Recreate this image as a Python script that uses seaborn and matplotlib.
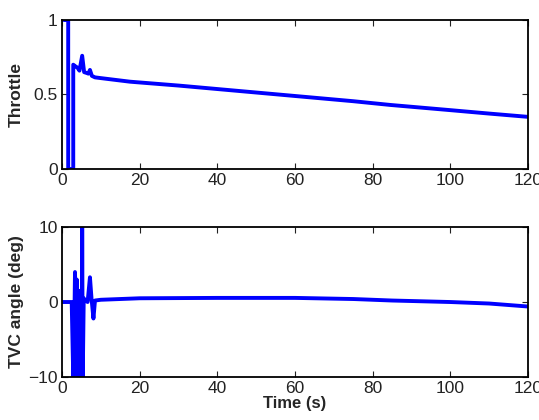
import numpy as np
import pandas as pd
import seaborn as sns
import matplotlib.pyplot as plt

# === DATA ===
throttle_t = [0.5, 1.6, 1.6, 2.9, 2.9, 3.4, 4.0, 4.5, 5.2, 5.7, 6.3, 6.8, 7.2, 7.7, 8.5,
              10, 17.5, 30, 45, 60, 75, 84.5, 100, 110, 120]
throttle_v = [1.0, 1.0, 0.0, 0.0, 0.70, 0.69, 0.68, 0.66, 0.76, 0.65, 0.645, 0.64, 0.665, 0.625, 0.615,
              0.61, 0.586, 0.56, 0.525, 0.49, 0.455, 0.43, 0.395, 0.372, 0.35]

tvc_t = [0.0, 2.5, 2.9, 3.0, 3.35, 3.6, 3.8, 4.0, 4.2, 4.4, 4.6, 4.9, 5.1, 5.2, 5.35, 5.6,
         6.0, 6.6, 7.2, 7.6, 8.1, 8.5, 10, 20, 40, 60, 75, 85, 100, 110, 120]
tvc_v = [0.0, 0.0, -10.0, -10.0, 4.0, -1.5, 3.0, -10.0, -1.8, 1.5, -2.0, 0.8, -10.0, 10.0, -10.0, 0.5,
         0.2, 0.0, 3.3, 0.5, -2.2, 0.2, 0.3, 0.5, 0.55, 0.55, 0.4, 0.2, 0.0, -0.2, -0.6]

time_ticks = [0, 20, 40, 60, 80, 100, 120]

sns.set_style("ticks")
plt.rcParams['font.family'] = ['Liberation Sans', 'DejaVu Sans']

fig = plt.figure(figsize=(5.39, 4.2), dpi=100)
ax1 = fig.add_axes([0.115, 0.5976, 0.8646, 0.3548])
ax2 = fig.add_axes([0.115, 0.1024, 0.8646, 0.357])

df_thr = pd.DataFrame({"t": throttle_t, "v": throttle_v})
df_tvc = pd.DataFrame({"t": tvc_t, "v": tvc_v})

sns.lineplot(data=df_thr, x="t", y="v", ax=ax1, color="#0000ff", linewidth=2.8,
             sort=False, estimator=None)
sns.lineplot(data=df_tvc, x="t", y="v", ax=ax2, color="#0000ff", linewidth=2.8,
             sort=False, estimator=None)

ax1.set_ylim(0, 1)
ax1.set_yticks([0, 0.5, 1])
ax1.set_yticklabels(["0", "0.5", "1"])
ax1.set_ylabel("Throttle", fontsize=12.5, fontweight="bold")
ax1.set_xlabel("")

ax2.set_ylim(-10, 10)
ax2.set_yticks([-10, 0, 10])
ax2.set_ylabel("TVC angle (deg)", fontsize=12.5, fontweight="bold")
ax2.set_xlabel("Time (s)", fontsize=12, fontweight="bold", labelpad=0)

for ax in (ax1, ax2):
    ax.set_xlim(0, 120)
    ax.set_xticks(time_ticks)
    ax.tick_params(direction="in", top=True, right=True, length=4, width=0.8,
                   labelsize=12.5, pad=3, colors="#222222")
    for sp in ax.spines.values():
        sp.set_visible(True)
        sp.set_linewidth(1.3)
        sp.set_color("black")
    ax.yaxis.set_label_coords(-0.082, 0.5)

fig.savefig("out.png", dpi=100)
